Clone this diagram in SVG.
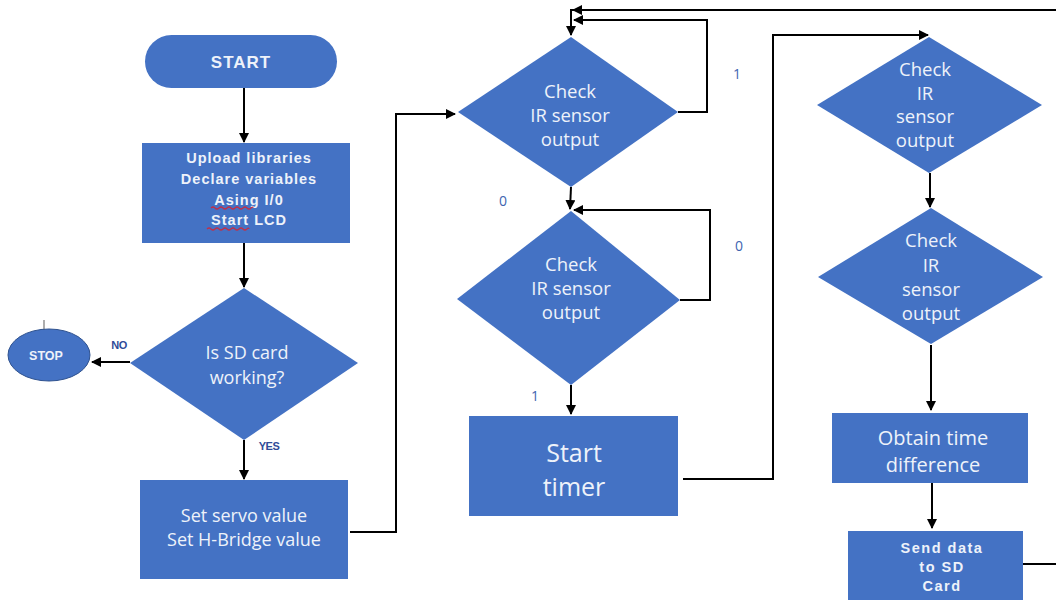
<svg xmlns="http://www.w3.org/2000/svg" width="1056" height="600" viewBox="0 0 1056 600">
<defs>
<marker id="ah" viewBox="0 0 10 10" refX="9" refY="5" markerWidth="5" markerHeight="5" orient="auto" markerUnits="strokeWidth">
<path d="M0,0 L10,5 L0,10 z" fill="#000"/>
</marker>
<style>
.n{fill:#4472C4;}
.t{fill:#EEF2FA;font-family:"Open Sans","Noto Sans",sans-serif;text-anchor:middle;}
.b{fill:#EEF2FA;font-family:"Liberation Sans",Arial,sans-serif;font-weight:bold;text-anchor:middle;letter-spacing:1px;}
.c{fill:none;stroke:#000;stroke-width:2;}
.a{marker-end:url(#ah);}
.l{fill:#3E64B0;font-family:"Open Sans","Noto Sans",sans-serif;font-size:14px;text-anchor:middle;}
.lb{fill:#2F4C98;font-family:"Liberation Sans",Arial,sans-serif;font-weight:bold;font-size:11px;text-anchor:middle;letter-spacing:-0.5px;}
</style>
</defs>
<rect width="1056" height="600" fill="#fff"/>

<g id="connectors">
<line class="c a" x1="244" y1="88" x2="244" y2="142"/>
<line class="c a" x1="244" y1="243" x2="244" y2="287"/>
<line class="c a" x1="130" y1="362" x2="92" y2="362"/>
<line class="c a" x1="244" y1="440" x2="244" y2="479"/>
<polyline class="c a" points="350,532 396,532 396,114 455,114"/>
<polyline class="c a" points="1056,10 571,10 571,35"/>
<line class="c a" x1="590" y1="10" x2="573" y2="10"/>
<polyline class="c a" points="678,112 707,112 707,20 574,20"/>
<line class="c a" x1="571" y1="187" x2="570" y2="209"/>
<polyline class="c a" points="680,300 710,300 710,210 574,210"/>
<line class="c a" x1="571" y1="385" x2="571" y2="414"/>
<polyline class="c a" points="683,479 773,479 773,35 928,35"/>
<line class="c a" x1="930" y1="173" x2="930" y2="207"/>
<line class="c a" x1="931" y1="345" x2="931" y2="410"/>
<line class="c a" x1="932" y1="483" x2="932" y2="528"/>
<line class="c" x1="1023" y1="564" x2="1056" y2="564"/>
<line x1="44" y1="320" x2="44" y2="330" stroke="#777" stroke-width="1.2"/>
</g>

<g id="start">
<rect class="n" x="145" y="35" width="192" height="53" rx="26.5"/>
<text class="b" x="241" y="68" font-size="17">START</text>
</g>

<g id="init">
<rect class="n" x="142" y="143" width="208" height="100"/>
<text class="b" x="249" y="163" font-size="14.5">Upload libraries</text>
<text class="b" x="249" y="184" font-size="14.5">Declare variables</text>
<text class="b" x="249" y="205" font-size="14.5">Asing I/0</text>
<text class="b" x="249" y="225" font-size="14.5">Start LCD</text>
<path d="M211,208 q2,-2 4,0 t4,0 t4,0 t4,0 t4,0 t4,0 t4,0 t4,0 t4,0 t4,0 t2,0" fill="none" stroke="#C0304A" stroke-width="1.2"/>
<path d="M207,229 q2,-2 4,0 t4,0 t4,0 t4,0 t4,0 t4,0 t4,0 t4,0 t4,0 t4,0 t2,0" fill="none" stroke="#C0304A" stroke-width="1.2"/>
</g>

<g id="sdcheck">
<polygon class="n" points="244,288 358,363 244,440 130,363"/>
<text class="t" x="247" y="359" font-size="18">Is SD card</text>
<text class="t" x="247" y="384" font-size="18">working?</text>
</g>

<g id="stop">
<ellipse class="n" cx="49" cy="355" rx="41" ry="26" stroke="#2F528F" stroke-width="1"/>
<text class="b" x="46" y="360" font-size="12.5" style="letter-spacing:0">STOP</text>
</g>

<g id="servo">
<rect class="n" x="140" y="480" width="208" height="99"/>
<text class="t" x="244" y="522" font-size="18">Set servo value</text>
<text class="t" x="244" y="546" font-size="18">Set H-Bridge value</text>
</g>

<g id="ir1">
<polygon class="n" points="571,37 678,112 571,187 458,112"/>
<text class="t" x="570" y="98" font-size="18.5">Check</text>
<text class="t" x="570" y="122" font-size="18.5">IR sensor</text>
<text class="t" x="570" y="146" font-size="18.5">output</text>
</g>

<g id="ir2">
<polygon class="n" points="571,211 680,300 571,385 457,299"/>
<text class="t" x="571" y="271" font-size="18.5">Check</text>
<text class="t" x="571" y="295" font-size="18.5">IR sensor</text>
<text class="t" x="571" y="319" font-size="18.5">output</text>
</g>

<g id="timer">
<rect class="n" x="469" y="416" width="209" height="100"/>
<text class="t" x="574" y="462" font-size="25">Start</text>
<text class="t" x="574" y="496" font-size="25">timer</text>
</g>

<g id="ir3">
<polygon class="n" points="929,37 1042,105 929,173 817,105"/>
<text class="t" x="925" y="76" font-size="18.5">Check</text>
<text class="t" x="925" y="100" font-size="18.5">IR</text>
<text class="t" x="925" y="123" font-size="18.5">sensor</text>
<text class="t" x="925" y="147" font-size="18.5">output</text>
</g>

<g id="ir4">
<polygon class="n" points="931,208 1043,277 931,344 818,277"/>
<text class="t" x="931" y="247" font-size="18.5">Check</text>
<text class="t" x="931" y="272" font-size="18.5">IR</text>
<text class="t" x="931" y="296" font-size="18.5">sensor</text>
<text class="t" x="931" y="320" font-size="18.5">output</text>
</g>

<g id="diff">
<rect class="n" x="832" y="413" width="196" height="70"/>
<text class="t" x="933" y="445" font-size="20">Obtain time</text>
<text class="t" x="933" y="472" font-size="20">difference</text>
</g>

<g id="send">
<rect class="n" x="848" y="531" width="175" height="75"/>
<text class="b" x="942" y="553" font-size="14.5" style="letter-spacing:1.5px">Send data</text>
<text class="b" x="942" y="572" font-size="14.5" style="letter-spacing:1.5px">to SD</text>
<text class="b" x="942" y="591" font-size="14.5" style="letter-spacing:1.5px">Card</text>
</g>

<g id="labels">
<text class="lb" x="119" y="349">NO</text>
<text class="lb" x="269" y="450">YES</text>
<text class="l" x="737" y="79">1</text>
<text class="l" x="503" y="206">0</text>
<text class="l" x="739" y="251">0</text>
<text class="l" x="535" y="401">1</text>
</g>
</svg>
